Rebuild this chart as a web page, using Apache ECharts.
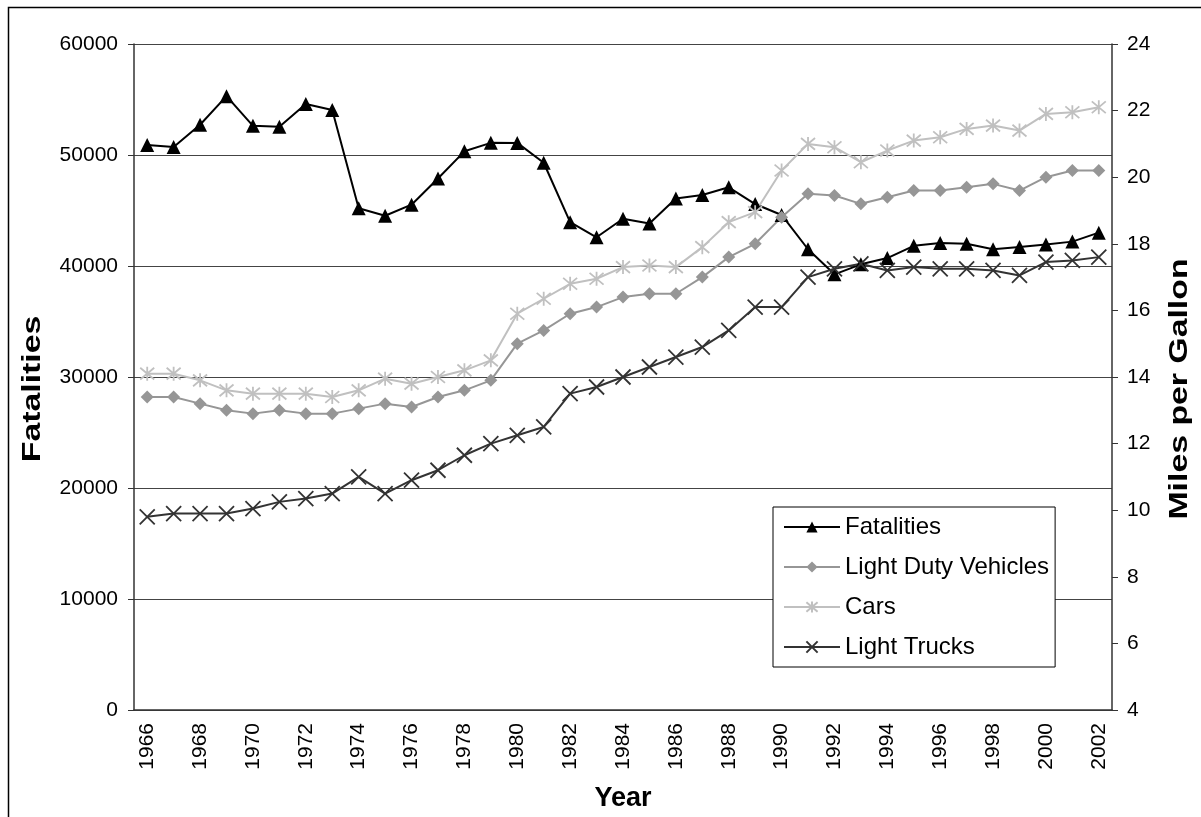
<!DOCTYPE html>
<html>
<head>
<meta charset="utf-8">
<script src="https://cdn.jsdelivr.net/npm/echarts@6/dist/echarts.min.js"></script>
<style>
html,body{margin:0;padding:0;background:#fff;}
#chart{width:1201px;height:817px;}
</style>
</head>
<body>
<div id="chart"></div>
<script>
var years = [1966,1967,1968,1969,1970,1971,1972,1973,1974,1975,1976,1977,1978,1979,1980,1981,1982,1983,1984,1985,1986,1987,1988,1989,1990,1991,1992,1993,1994,1995,1996,1997,1998,1999,2000,2001,2002];
var fatalities = [50894,50724,52725,55300,52627,52542,54589,54052,45196,44525,45523,47878,50331,51093,51091,49301,43945,42589,44257,43825,46087,46390,47087,45582,44599,41508,39250,40150,40716,41817,42065,42013,41501,41717,41945,42196,43005];
var lightDuty = [13.4,13.4,13.2,13.0,12.9,13.0,12.9,12.9,13.05,13.2,13.1,13.4,13.6,13.9,15.0,15.4,15.9,16.1,16.4,16.5,16.5,17.0,17.6,18.0,18.8,19.5,19.45,19.2,19.4,19.6,19.6,19.7,19.8,19.6,20.0,20.2,20.2];
var cars = [14.1,14.1,13.9,13.6,13.5,13.5,13.5,13.4,13.6,13.95,13.8,14.0,14.2,14.5,15.9,16.35,16.8,16.95,17.3,17.35,17.3,17.9,18.65,18.95,20.2,21.0,20.9,20.45,20.8,21.1,21.2,21.45,21.55,21.4,21.9,21.95,22.1];
var lightTrucks = [9.8,9.9,9.9,9.9,10.05,10.25,10.35,10.5,11.0,10.5,10.9,11.2,11.65,12.0,12.25,12.5,13.5,13.7,14.0,14.3,14.6,14.9,15.4,16.1,16.1,17.0,17.25,17.4,17.2,17.3,17.25,17.25,17.2,17.05,17.45,17.5,17.6];
var leftTicks = {min:0, max:60000, interval:10000};
var rightTicks = {min:4, max:24, interval:2};
var leftTitle = 'Fatalities';
var rightTitle = 'Miles per Gallon';
var xTitle = 'Year';

var FONT = '"Liberation Sans", Arial, sans-serif';
var chart = echarts.init(document.getElementById('chart'), null, {renderer:'canvas'});
var asterisk = 'path://M5,0L5,10M0.8,0.8L9.2,9.2M9.2,0.8L0.8,9.2';
var cross = 'path://M0,0L10,10M10,0L0,10';

function vTitle(txt, x) {
  return {
    type: 'text', x: x, y: 389, rotation: Math.PI / 2, scaleX: 1.3, silent: true,
    style: {text: txt, fontFamily: FONT, fontSize: 26, fontWeight: 'bold', fill: '#000',
            align: 'center', verticalAlign: 'middle'}
  };
}

var option = {
  animation: false,
  backgroundColor: '#fff',
  textStyle: {fontFamily: FONT},
  graphic: [{
    type: 'rect', left: 6, top: 5, shape: {x:0, y:0, width: 1200, height: 820},
    style: {fill: 'none', stroke: '#000', lineWidth: 1.5}, silent: true
  }, vTitle(leftTitle, 33), vTitle(rightTitle, 1180)],
  grid: {left: 134, right: 89, top: 44, bottom: 105, containLabel: false},
  legend: {
    orient: 'vertical', left: 773, top: 507,
    padding: [8, 6, 8, 10], itemGap: 16,
    itemWidth: 56, itemHeight: 14,
    borderColor: '#000', borderWidth: 1, backgroundColor: '#fff',
    textStyle: {fontFamily: FONT, fontSize: 24, color: '#000'},
    data: ['Fatalities','Light Duty Vehicles','Cars','Light Trucks']
  },
  xAxis: {
    type: 'category', data: years, boundaryGap: true,
    name: xTitle, nameLocation: 'middle', nameGap: 75,
    nameTextStyle: {fontFamily: FONT, fontSize: 27, fontWeight: 'bold', color: '#000'},
    axisLine: {lineStyle: {color: '#333', width: 1.5}},
    axisTick: {interval: 0, length: 6, lineStyle: {color: '#333'}},
    axisLabel: {interval: 1, rotate: 90, fontSize: 21, color: '#000', margin: 13, fontFamily: FONT}
  },
  yAxis: [{
    type: 'value', min: leftTicks.min, max: leftTicks.max, interval: leftTicks.interval,
    axisLine: {show: true, lineStyle: {color: '#333', width: 1.5}},
    axisTick: {show: true, length: 6, lineStyle: {color: '#333'}},
    axisLabel: {fontSize: 21, color: '#000', margin: 16, fontFamily: FONT,
      formatter: function (v) { return String(v); }},
    splitLine: {show: true, lineStyle: {color: '#444', width: 1.2}}
  },{
    type: 'value', position: 'right', min: rightTicks.min, max: rightTicks.max, interval: rightTicks.interval,
    axisLine: {show: true, lineStyle: {color: '#333', width: 1.5}},
    axisTick: {show: true, length: 6, lineStyle: {color: '#333'}},
    axisLabel: {fontSize: 21, color: '#000', margin: 15, fontFamily: FONT},
    splitLine: {show: false}
  }],
  series: [{
    name: 'Fatalities', type: 'line', yAxisIndex: 0, data: fatalities,
    symbol: 'triangle', symbolSize: 14,
    lineStyle: {color: '#000', width: 2},
    itemStyle: {color: '#000'}
  },{
    name: 'Light Duty Vehicles', type: 'line', yAxisIndex: 1, data: lightDuty,
    symbol: 'diamond', symbolSize: 13,
    lineStyle: {color: '#969696', width: 2},
    itemStyle: {color: '#969696'}
  },{
    name: 'Cars', type: 'line', yAxisIndex: 1, data: cars,
    symbol: asterisk, symbolSize: 14,
    lineStyle: {color: '#c0c0c0', width: 2},
    itemStyle: {color: '#c0c0c0', borderColor: '#c0c0c0', borderWidth: 1.8}
  },{
    name: 'Light Trucks', type: 'line', yAxisIndex: 1, data: lightTrucks,
    symbol: cross, symbolSize: 15,
    lineStyle: {color: '#333', width: 2},
    itemStyle: {color: '#333', borderColor: '#333', borderWidth: 1.8}
  }]
};
chart.setOption(option);
</script>
</body>
</html>
